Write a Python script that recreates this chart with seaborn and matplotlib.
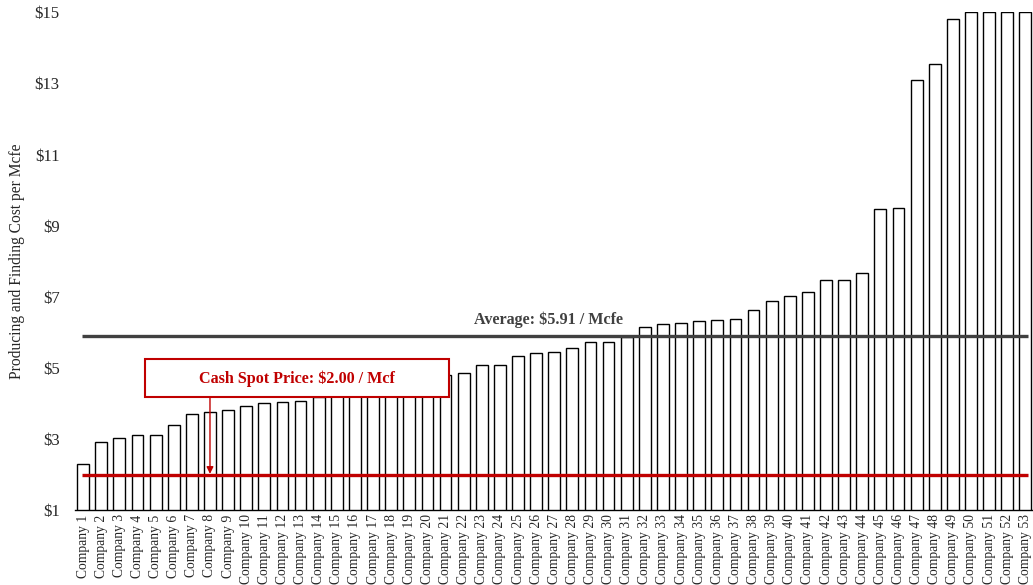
import matplotlib
matplotlib.use("Agg")
import matplotlib.pyplot as plt
from matplotlib.patches import Rectangle
import seaborn as sns
import pandas as pd

companies = ["Company %d" % i for i in range(1, 54)]
costs = [2.29, 2.91, 3.02, 3.11, 3.11, 3.39, 3.70, 3.75, 3.81, 3.92,
         4.00, 4.03, 4.06, 4.18, 4.22, 4.28, 4.35, 4.45, 4.55, 4.68,
         4.81, 4.85, 5.08, 5.08, 5.33, 5.41, 5.46, 5.55, 5.74, 5.74,
         5.87, 6.15, 6.22, 6.25, 6.33, 6.35, 6.37, 6.62, 6.88, 7.01,
         7.12, 7.48, 7.48, 7.67, 9.46, 9.50, 13.10, 13.54, 14.82, 15.0,
         15.0, 15.0, 15.0]
average_cost = 5.91
spot_price = 2.00
y_ticks = [1, 3, 5, 7, 9, 11, 13, 15]

df = pd.DataFrame({"company": companies, "cost": costs})

sns.set_style("white")
plt.rcParams["font.family"] = ["Liberation Serif", "DejaVu Serif"]

fig = plt.figure(figsize=(10.33, 5.85), dpi=100)
ax = fig.add_axes([0.0726, 0.128, 0.927, 0.851])

sns.barplot(data=df, x="company", y="cost", color="white", saturation=1,
            edgecolor="black", linewidth=1.0, width=0.65, ax=ax)

n = len(companies)
ax.hlines(average_cost, -0.05, n - 0.85, color="#404040", linewidth=2.4, zorder=3)
ax.hlines(spot_price, -0.05, n - 0.85, color="#C00000", linewidth=2.4, zorder=3)

ax.set_ylim(1, 15)
ax.set_xlim(-0.45, 52.4)
ax.set_yticks(y_ticks)
ax.set_yticklabels(["$%d" % t for t in y_ticks], fontsize=12)
ax.tick_params(axis="x", labelrotation=90, labelsize=9.8, length=0, pad=3)
ax.tick_params(axis="y", length=0, pad=11)
ax.set_xlabel("")
ax.set_ylabel("Producing and Finding Cost per Mcfe", fontsize=11.2, labelpad=7)

for side in ["top", "right", "left"]:
    ax.spines[side].set_visible(False)
ax.spines["bottom"].set_color("black")
ax.spines["bottom"].set_linewidth(1.0)

ax.text(25.7, 6.34, "Average: $5.91 / Mcfe", ha="center", va="center",
        fontsize=11.6, fontweight="bold", color="#404040", zorder=4)

box = Rectangle((3.4, 4.17), 16.8, 1.07, facecolor="white",
                edgecolor="#C00000", linewidth=1.5, zorder=5)
ax.add_patch(box)
ax.text(11.8, 4.70, "Cash Spot Price: $2.00 / Mcf", ha="center", va="center",
        fontsize=11.6, fontweight="bold", color="#C00000", zorder=6)
ax.annotate("", xy=(7, spot_price + 0.02), xytext=(7, 4.17),
            arrowprops=dict(arrowstyle="-|>", color="#C00000", lw=1.0,
                            mutation_scale=10, shrinkA=0, shrinkB=0),
            zorder=6)

fig.savefig("out.png", dpi=100)
